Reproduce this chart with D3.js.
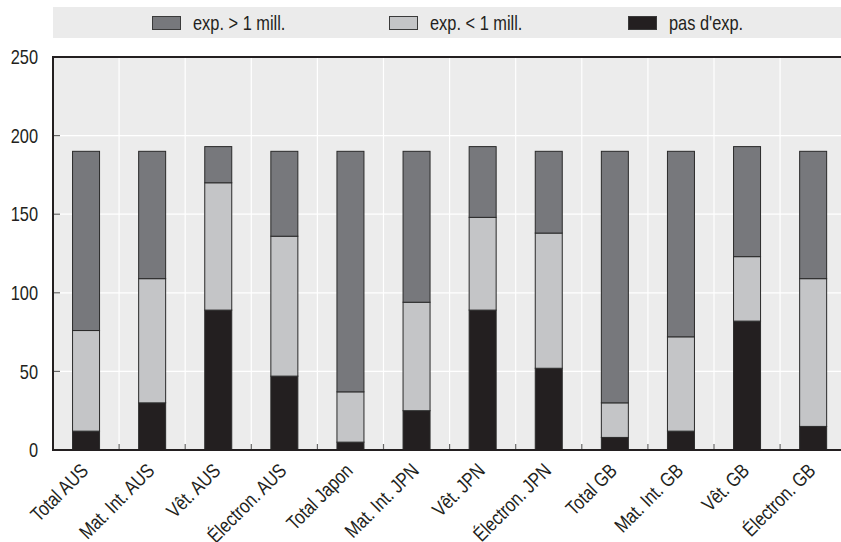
<!DOCTYPE html>
<html>
<head>
<meta charset="utf-8">
<script src="https://cdn.jsdelivr.net/npm/d3@7"></script>
<style>
  html, body { margin: 0; padding: 0; background: #fff; }
  svg { display: block; }
  text { font-family: "Liberation Sans", Arial, sans-serif; fill: #231f20; }
</style>
</head>
<body>
<svg id="chart" width="841" height="542"></svg>
<script>
const categories = ["Total AUS", "Mat. Int. AUS", "Vêt. AUS", "Électron. AUS", "Total Japon", "Mat. Int. JPN", "Vêt. JPN", "Électron. JPN", "Total GB", "Mat. Int. GB", "Vêt. GB", "Électron. GB"];
const nonExp   = [12, 30, 89, 47, 5, 25, 89, 52, 8, 12, 82, 15];
const expSmall = [64, 79, 81, 89, 32, 69, 59, 86, 22, 60, 41, 94];
const expLarge = [114, 81, 23, 54, 153, 96, 45, 52, 160, 118, 70, 81];
const seriesNames = ["exp. > 1 mill.", "exp. < 1 mill.", "pas d'exp."];
const yTicks = [0, 50, 100, 150, 200, 250];

const colors = {"pas d'exp.": "#231f20", "exp. < 1 mill.": "#c4c5c7", "exp. > 1 mill.": "#77787c"};

(function () {
const svg = d3.select("#chart");
const mLeft = 53, mBottom = 450, mTop = 57;
const stepW = 66.1;
const mRight = mLeft + categories.length * stepW;
const narrow = 0.82;

const x = d3.scaleBand().domain(categories).range([mLeft, mRight]).padding(0);
const y = d3.scaleLinear().domain([0, 250]).range([mBottom, mTop]);
const barW = 27;

// Legend band
svg.append("rect").attr("x", 53).attr("y", 7).attr("width", 841 - 53).attr("height", 31).attr("fill", "#ebebeb");
const legendX = [152, 389, 628];
seriesNames.forEach((s, i) => {
  const g = svg.append("g").attr("transform", `translate(${legendX[i]},16)`);
  g.append("rect").attr("x", 0.5).attr("y", 0.5).attr("width", 28).attr("height", 13)
    .attr("fill", colors[s]).attr("stroke", "#3a3a3a").attr("stroke-width", 1);
  g.append("text").attr("transform", `translate(41,13.5) scale(${narrow},1)`)
    .attr("font-size", 20).text(s);
});

// plot background
svg.append("rect").attr("x", mLeft).attr("y", mTop).attr("width", mRight - mLeft).attr("height", mBottom - mTop).attr("fill", "#ececec");

// gridlines
svg.append("g").selectAll("line").data(yTicks.filter(d => d > 0 && d < 250)).join("line")
  .attr("x1", mLeft).attr("x2", mRight).attr("y1", d => y(d)).attr("y2", d => y(d))
  .attr("stroke", "#fff").attr("stroke-width", 1.2);
svg.append("g").selectAll("line").data(categories.slice(1)).join("line")
  .attr("x1", d => x(d)).attr("x2", d => x(d)).attr("y1", mTop).attr("y2", mBottom)
  .attr("stroke", "#fff").attr("stroke-width", 1.2);

// stacked bars
const rows = categories.map((c, i) => ({cat: c, "pas d'exp.": nonExp[i], "exp. < 1 mill.": expSmall[i], "exp. > 1 mill.": expLarge[i]}));
const stack = d3.stack().keys(["pas d'exp.", "exp. < 1 mill.", "exp. > 1 mill."]);
const stacked = stack(rows);
svg.append("g").selectAll("g").data(stacked).join("g")
  .attr("fill", d => colors[d.key])
  .selectAll("rect").data(d => d).join("rect")
  .attr("x", d => x(d.data.cat) + (x.bandwidth() - barW) / 2)
  .attr("y", d => y(d[1]))
  .attr("width", barW)
  .attr("height", d => y(d[0]) - y(d[1]))
  .attr("stroke", "#2a2a2a").attr("stroke-width", 1);

// bottom small ticks at boundaries
svg.append("g").selectAll("line").data(categories.slice(1)).join("line")
  .attr("x1", d => x(d)).attr("x2", d => x(d)).attr("y1", mBottom).attr("y2", mBottom - 6)
  .attr("stroke", "#666").attr("stroke-width", 1.2);

// y ticks inward
svg.append("g").selectAll("line").data(yTicks.filter(d => d > 0 && d < 250)).join("line")
  .attr("x1", mLeft).attr("x2", mLeft + 7).attr("y1", d => y(d)).attr("y2", d => y(d))
  .attr("stroke", "#666").attr("stroke-width", 1.2);

// frame lines
svg.append("line").attr("x1", mLeft).attr("x2", mRight).attr("y1", mTop).attr("y2", mTop).attr("stroke", "#231f20").attr("stroke-width", 2);
svg.append("line").attr("x1", mLeft).attr("x2", mRight).attr("y1", mBottom).attr("y2", mBottom).attr("stroke", "#231f20").attr("stroke-width", 2);
svg.append("line").attr("x1", mLeft).attr("x2", mLeft).attr("y1", mTop - 1).attr("y2", mBottom + 1).attr("stroke", "#231f20").attr("stroke-width", 2);

// y labels
svg.append("g").selectAll("text").data(yTicks).join("text")
  .attr("transform", d => `translate(38,${y(d)}) scale(${narrow},1)`)
  .attr("dy", "0.36em").attr("text-anchor", "end")
  .attr("font-size", 20).text(d => d);

// x labels
svg.append("g").selectAll("text").data(categories).join("text")
  .attr("transform", d => `translate(${x(d) + x.bandwidth() / 2 + 3.5},${mBottom + 22}) rotate(-45) scale(${narrow},1)`)
  .attr("text-anchor", "end")
  .attr("font-size", 20).text(d => d);
})();
</script>
</body>
</html>
